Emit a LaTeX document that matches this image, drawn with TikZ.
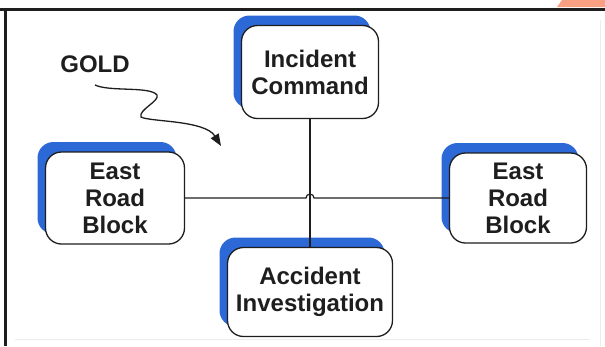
\documentclass[tikz,border=0pt]{standalone}
\usepackage{fontspec}
\setmainfont{Liberation Sans}
\usetikzlibrary{arrows.meta, calc, shadows}
\definecolor{DG}{RGB}{30,30,30}
\definecolor{SB}{RGB}{44,104,214}
\definecolor{OR}{RGB}{250,160,130}

\begin{document}
\begin{tikzpicture}[x=1pt, y=-1pt,
  unit/.style={draw=DG, line width=1.3pt, fill=white, rounded corners=16pt,
    align=center, inner sep=0pt, font=\fontsize{24}{27}\selectfont\bfseries,
    text=DG, general shadow={fill=SB, shadow xshift=-8pt, shadow yshift=10pt}},
  link/.style={draw=DG, line width=1.2pt}
]
\useasboundingbox (0,0) rectangle (605,346);

% Frame
\fill[OR] (557,7) -- (562,0) -- (605,0) -- (605,7) -- cycle;
\draw[DG, line width=3pt] (0,9) -- (605,9);
\draw[DG, line width=3pt] (5.5,9) -- (5.5,346);
\draw[gray!15, line width=1pt] (600,20) -- (600,346);
\draw[gray!15, line width=1pt] (15,339) -- (590,339);

% Units
\node[unit, minimum width=137pt, minimum height=93pt] (ic)  at (310,72)  {Incident\\Command};
\node[unit, minimum width=139pt, minimum height=92pt] (lrb) at (115,198) {East\\Road\\Block};
\node[unit, minimum width=137pt, minimum height=90pt] (rrb) at (518,198) {East\\Road\\Block};
\node[unit, minimum width=165pt, minimum height=89pt] (ai)  at (310,292) {Accident\\Investigation};

% Label
\node[anchor=base, font=\fontsize{24}{27}\selectfont\bfseries, text=DG] (gold) at (95,72) {GOLD};

% Links
\draw[link] (ic.south) -- (ai.north);
\coordinate (hop) at ($(lrb.east -| ic.south)+(-4,0)$);
\draw[link] (lrb.east) -- (hop) arc[start angle=180, end angle=360, radius=4] -- (rrb.west);

% Squiggle
\coordinate (sq) at (95,85);
\draw[DG, line width=1.3pt, -{Triangle[length=12pt, width=9pt]}]
  (sq) .. controls (110,92) and (150,86) .. (157,95)
  .. controls (160,101) and (138,110) .. (141,117)
  .. controls (150,122) and (205,120) .. (221,146);
\end{tikzpicture}
\end{document}
